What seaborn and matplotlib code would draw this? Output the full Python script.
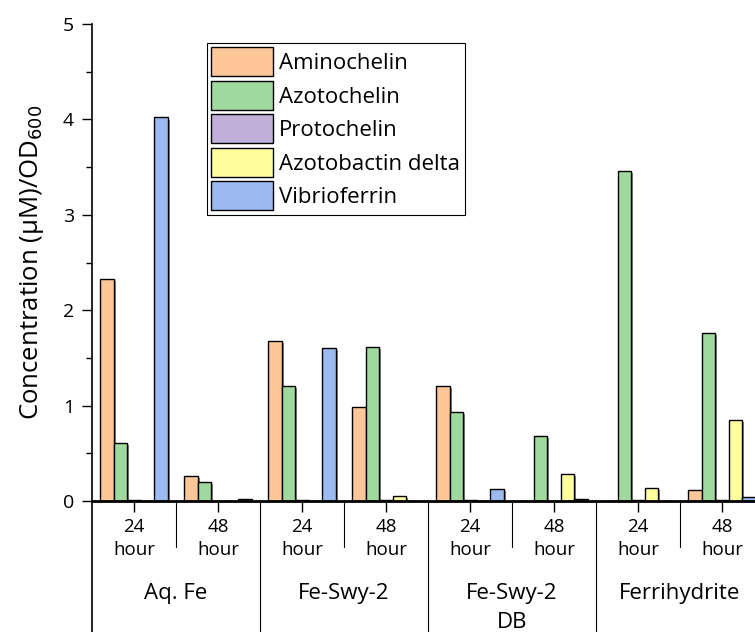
import numpy as np
import pandas as pd
import matplotlib
matplotlib.use("Agg")
import matplotlib.pyplot as plt
import matplotlib.patheffects as pe
from matplotlib.patches import Patch
import seaborn as sns

# data
materials = ["Aq. Fe", "Fe-Swy-2", "Fe-Swy-2\nDB", "Ferrihydrite"]
times = ["24", "48"]
compounds = ["Aminochelin", "Azotochelin", "Protochelin", "Azotobactin delta", "Vibrioferrin"]

aminochelin = [2.33, 0.26, 1.68, 0.99, 1.21, 0.00, 0.00, 0.12]
azotochelin = [0.61, 0.20, 1.21, 1.61, 0.93, 0.68, 3.46, 1.76]
protochelin = [0.01, 0.00, 0.01, 0.01, 0.01, 0.00, 0.01, 0.01]
azotobactin = [0.00, 0.00, 0.00, 0.05, 0.00, 0.28, 0.14, 0.85]
vibrioferrin = [4.02, 0.02, 1.60, 0.00, 0.13, 0.02, 0.00, 0.04]

colors = ["#FDC797", "#A0D99D", "#C0AFD8", "#FFFF9E", "#9CBAF2"]

groups = [m + "|" + t for m in materials for t in times]
rows = []
for comp, vals in zip(compounds, [aminochelin, azotochelin, protochelin, azotobactin, vibrioferrin]):
    for g, v in zip(groups, vals):
        rows.append({"group": g, "compound": comp, "value": v})
df = pd.DataFrame(rows)

sns.set_style("white")
plt.rcParams["font.family"] = ["Open Sans", "DejaVu Sans"]
plt.rcParams["text.color"] = "black"
plt.rcParams["axes.labelcolor"] = "black"
plt.rcParams["xtick.color"] = "black"
plt.rcParams["ytick.color"] = "black"

fig = plt.figure(figsize=(7.55, 6.32), dpi=100)
ax = fig.add_axes([92 / 755, 131 / 632, 672 / 755, 477 / 632])

sns.barplot(
    data=df, x="group", y="value", hue="compound",
    order=groups, hue_order=compounds, palette=colors, saturation=1,
    width=0.8, edgecolor="black", linewidth=1.0,
    legend=False, ax=ax,
)

for p in ax.patches:
    p.set_path_effects([
        pe.SimplePatchShadow(offset=(1.5, -1.5), shadow_rgbFace="#555555", alpha=0.7),
        pe.Normal(),
    ])

ax.set_xlim(-0.5, 7.5)
ax.set_ylim(0, 5)
ax.set_yticks([0, 1, 2, 3, 4, 5])
ax.set_yticks(np.arange(0.5, 5, 1.0), minor=True)
ax.tick_params(axis="y", which="major", direction="out", length=7, width=1,
               labelsize=14, left=True, pad=6)
ax.tick_params(axis="y", which="minor", direction="out", length=4, width=1, left=True)

ax.set_xticks(range(8))
ax.set_xticklabels(["24\nhour", "48\nhour"] * 4, fontsize=13.5, linespacing=1.4)
ax.tick_params(axis="x", direction="out", length=8, width=1, bottom=True, pad=4)
ax.set_xlabel("")
ax.set_ylabel("Concentration (μM)/OD$_{600}$", fontsize=18.5, labelpad=12)

for s in ["top", "right"]:
    ax.spines[s].set_visible(False)
ax.spines["left"].set_color("black")
ax.spines["left"].set_linewidth(1.2)
ax.spines["bottom"].set_color("black")
ax.spines["bottom"].set_linewidth(2)

# nested category lines under the axis
trans = ax.get_xaxis_transform()
ax.plot([-0.5, -0.5], [0, -0.3], color="black", lw=1.2, transform=trans, clip_on=False)
for xb in [1.5, 3.5, 5.5]:
    ax.plot([xb, xb], [0, -0.3], color="black", lw=0.8, transform=trans, clip_on=False)
for xb in [0.5, 2.5, 4.5, 6.5]:
    ax.plot([xb, xb], [0, -0.097], color="black", lw=0.8, transform=trans, clip_on=False)

for i, m in enumerate(materials):
    ax.text(2 * i + 0.5, -0.171, m, transform=trans, ha="center", va="top",
            fontsize=16, linespacing=1.55)

handles = [Patch(facecolor=c, edgecolor="black", linewidth=1.0) for c in colors]
leg = fig.legend(
    handles, compounds, loc="upper left",
    bbox_to_anchor=(207 / 755, 1 - 43 / 632), bbox_transform=fig.transFigure,
    fontsize=16, handlelength=2.75, handleheight=1.63, labelspacing=0.2,
    handletextpad=0.3, borderpad=0.2, borderaxespad=0, fancybox=False,
    framealpha=1, edgecolor="black",
)
leg.get_frame().set_linewidth(0.8)

fig.savefig("out.png", dpi=100)
